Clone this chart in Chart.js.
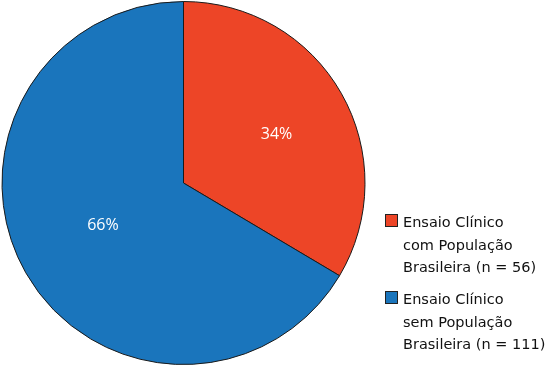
<!DOCTYPE html>
<html>
<head>
<meta charset="utf-8">
<script src="https://cdn.jsdelivr.net/npm/chart.js@4"></script>
<style>
  html, body { margin: 0; padding: 0; background: #fff; }
  #wrap { position: relative; width: 550px; height: 366px; }
  #legend { position: absolute; left: 385px; top: 211px; font-family: "DejaVu Sans", sans-serif; font-size: 14.5px; line-height: 22.5px; color: #111; }
  .item { position: relative; padding-left: 18px; margin-bottom: 9.5px; }
  .box { position: absolute; left: 0; top: 3px; width: 13px; height: 13px; border: 1px solid #222; box-sizing: border-box; }
</style>
</head>
<body>
<div id="wrap">
  <canvas id="pie" width="550" height="366"></canvas>
  <div id="legend"></div>
</div>
<script>
// dados
const categorias = [
  ['Ensaio Clínico', 'com População', 'Brasileira (n = 56)'],
  ['Ensaio Clínico', 'sem População', 'Brasileira (n = 111)']
];
const contagens = [56, 111];
const percentuais = ['34%', '66%'];
const cores = ['#ED4527', '#1A75BC'];

// rótulos de porcentagem dentro das fatias
const rotulosPlugin = {
  id: 'rotulos',
  afterDatasetsDraw(chart) {
    const ctx = chart.ctx;
    const meta = chart.getDatasetMeta(0);
    ctx.save();
    ctx.font = '16px "Open Sans", sans-serif';
    ctx.fillStyle = '#fff';
    ctx.textAlign = 'center';
    ctx.textBaseline = 'middle';
    const fatores = [0.58, 0.5];
    meta.data.forEach((arc, i) => {
      const { x, y, startAngle, endAngle, outerRadius } = arc.getProps(['x', 'y', 'startAngle', 'endAngle', 'outerRadius'], true);
      const meio = (startAngle + endAngle) / 2 + (i === 1 ? 0.04 : 0.03);
      const r = outerRadius * fatores[i];
      ctx.fillText(percentuais[i], x + Math.cos(meio) * r, y + Math.sin(meio) * r + 1);
    });
    ctx.restore();
  }
};

const ctx = document.getElementById('pie').getContext('2d');
new Chart(ctx, {
  type: 'pie',
  data: {
    labels: categorias.map(c => c.join(' ')),
    datasets: [{
      data: contagens,
      backgroundColor: cores,
      borderColor: '#1a1a1a',
      borderWidth: 1
    }]
  },
  options: {
    responsive: false,
    animation: false,
    layout: { padding: { left: 1, top: 1, bottom: 1, right: 184 } },
    plugins: {
      legend: { display: false },
      tooltip: { enabled: false }
    }
  },
  plugins: [rotulosPlugin]
});

// legenda em HTML
const legenda = document.getElementById('legend');
categorias.forEach((linhas, i) => {
  const item = document.createElement('div');
  item.className = 'item';
  const box = document.createElement('span');
  box.className = 'box';
  box.style.background = cores[i];
  item.appendChild(box);
  linhas.forEach((l, j) => {
    if (j > 0) item.appendChild(document.createElement('br'));
    item.appendChild(document.createTextNode(l));
  });
  legenda.appendChild(item);
});
</script>
</body>
</html>
